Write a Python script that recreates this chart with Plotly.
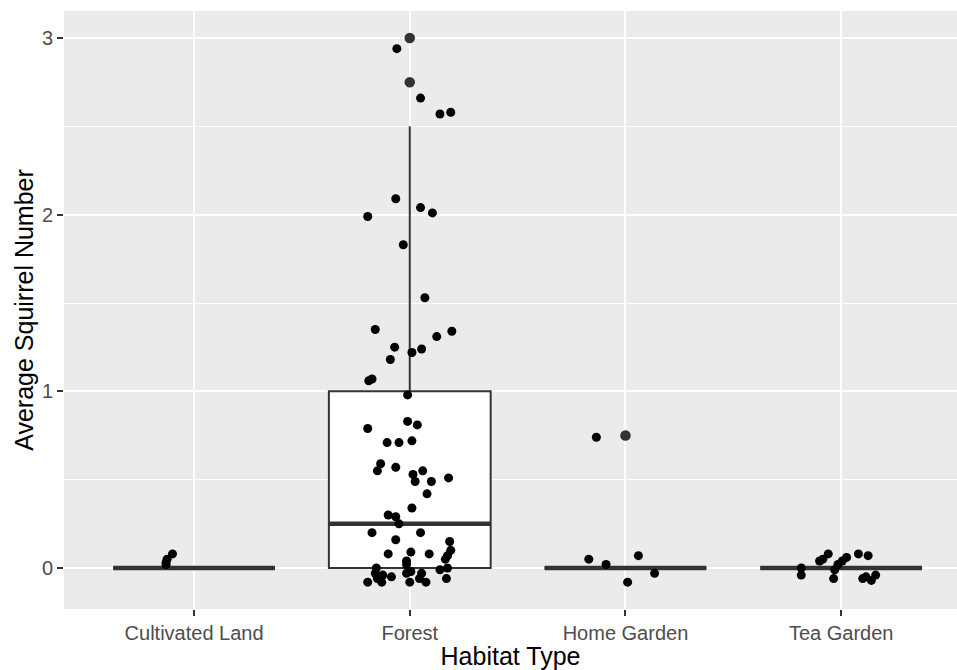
import plotly.graph_objects as go

# ---- data ----
categories = ["Cultivated Land", "Forest", "Home Garden", "Tea Garden"]
q1 = [0, 0, 0, 0]
median = [0, 0.25, 0, 0]
q3 = [0, 1.0, 0, 0]
lower_whisker = [0, 0, 0, 0]
upper_whisker = [0, 2.5, 0, 0]

outlier_cat = [1, 1, 2]
outlier_y = [3.0, 2.75, 0.75]

cult_offset = [-0.13, -0.125, -0.10, -0.13]
cult_y = [0.02, 0.05, 0.08, 0.03]

forest_offset = [-0.06, 0.05, 0.14, 0.19, -0.065, 0.05, 0.105, -0.195, -0.03, 0.07,
                 -0.16, 0.195, 0.125, -0.07, 0.055, 0.01, -0.09, -0.19, -0.175, -0.01,
                 -0.195, -0.01, 0.035, -0.105, -0.05, 0.01, -0.135, -0.15, -0.065, 0.015,
                 0.06, 0.025, 0.10, 0.18, 0.08, 0.01, -0.10, -0.065, -0.05, -0.175,
                 0.05, -0.065, 0.185, 0.19, 0.175, -0.10, 0.005, 0.09, 0.165, -0.015,
                 -0.155, -0.015, 0.14, 0.175, -0.16, -0.125, -0.085, -0.015, 0.005, 0.055,
                 -0.195, -0.13, 0.0, 0.045, 0.075, 0.17, -0.15]
forest_y = [2.94, 2.66, 2.57, 2.58, 2.09, 2.04, 2.01, 1.99, 1.83, 1.53,
            1.35, 1.34, 1.31, 1.25, 1.24, 1.22, 1.18, 1.06, 1.07, 0.98,
            0.79, 0.83, 0.81, 0.71, 0.71, 0.72, 0.59, 0.55, 0.57, 0.53,
            0.55, 0.49, 0.49, 0.51, 0.42, 0.34, 0.30, 0.29, 0.25, 0.20,
            0.20, 0.16, 0.15, 0.10, 0.07, 0.08, 0.09, 0.08, 0.05, 0.04,
            0.00, 0.02, -0.01, 0.00, -0.03, -0.04, -0.05, -0.03, -0.02, -0.03,
            -0.08, -0.08, -0.08, -0.06, -0.08, -0.06, -0.06]

home_offset = [-0.135, -0.17, -0.09, 0.06, 0.135, 0.01]
home_y = [0.74, 0.05, 0.02, 0.07, -0.03, -0.08]

tea_offset = [-0.185, -0.185, -0.10, -0.085, -0.06, -0.035, -0.03, -0.015,
              0.005, 0.025, 0.08, 0.125, 0.10, 0.14, 0.16, 0.115]
tea_y = [0.0, -0.04, 0.04, 0.05, 0.08, -0.06, -0.01, 0.02,
         0.04, 0.06, 0.08, 0.07, -0.06, -0.07, -0.04, -0.05]

y_ticks = [0, 1, 2, 3]

# ---- figure ----
BOX_W = 0.75
pos = list(range(len(categories)))

fig = go.Figure()
fig.add_trace(go.Box(
    x=pos, q1=q1, median=median, q3=q3,
    lowerfence=lower_whisker, upperfence=upper_whisker,
    width=BOX_W, whiskerwidth=0, fillcolor="white",
    line=dict(color="#333333", width=2), boxpoints=False,
    hoverinfo="skip", showlegend=False))

# thick median lines (ggplot fatten)
mx, my = [], []
for p, m in zip(pos, median):
    mx += [p - BOX_W / 2, p + BOX_W / 2, None]
    my += [m, m, None]
fig.add_trace(go.Scatter(x=mx, y=my, mode="lines",
                         line=dict(color="#333333", width=4.5),
                         showlegend=False, hoverinfo="skip"))

# boxplot outliers
fig.add_trace(go.Scatter(x=outlier_cat, y=outlier_y, mode="markers",
                         marker=dict(color="#333333", size=10.5),
                         showlegend=False))

# jittered points
jx, jy = [], []
for idx, (offs, ys) in enumerate([(cult_offset, cult_y), (forest_offset, forest_y),
                                   (home_offset, home_y), (tea_offset, tea_y)]):
    jx += [idx + o for o in offs]
    jy += ys
fig.add_trace(go.Scatter(x=jx, y=jy, mode="markers",
                         marker=dict(color="black", size=9),
                         showlegend=False))

fig.update_layout(
    width=957, height=670,
    margin=dict(l=64, r=0, t=11, b=61),
    paper_bgcolor="white", plot_bgcolor="#EBEBEB",
    font=dict(family="Liberation Sans, Arial, sans-serif"),
    showlegend=False,
)
fig.update_xaxes(
    range=[-0.603, 3.537], tickvals=pos, ticktext=categories,
    showgrid=True, gridcolor="white", gridwidth=2.2, zeroline=False,
    ticks="outside", ticklen=6, tickwidth=1.5, tickcolor="#333333",
    tickfont=dict(size=20, color="#4D4D4D"),
    title=dict(text="Habitat Type", font=dict(size=25, color="black"), standoff=6),
    showline=False, automargin=False,
)
fig.update_yaxes(
    range=[-0.232, 3.153], tickvals=y_ticks,
    showgrid=True, gridcolor="white", gridwidth=2.2, zeroline=False,
    minor=dict(dtick=0.5, tick0=0, showgrid=True, gridcolor="white", gridwidth=1.1, ticks=""),
    ticks="outside", ticklen=6, tickwidth=1.5, tickcolor="#333333",
    tickfont=dict(size=20, color="#4D4D4D"),
    title=dict(text="Average Squirrel Number", font=dict(size=25, color="black"), standoff=1),
    showline=False, automargin=False,
)

fig.write_html(
    "out.html",
    config={"displayModeBar": False},
    post_script="document.body.style.margin='0';"
                "document.documentElement.style.overflow='hidden';"
                "document.body.style.overflow='hidden';",
)
